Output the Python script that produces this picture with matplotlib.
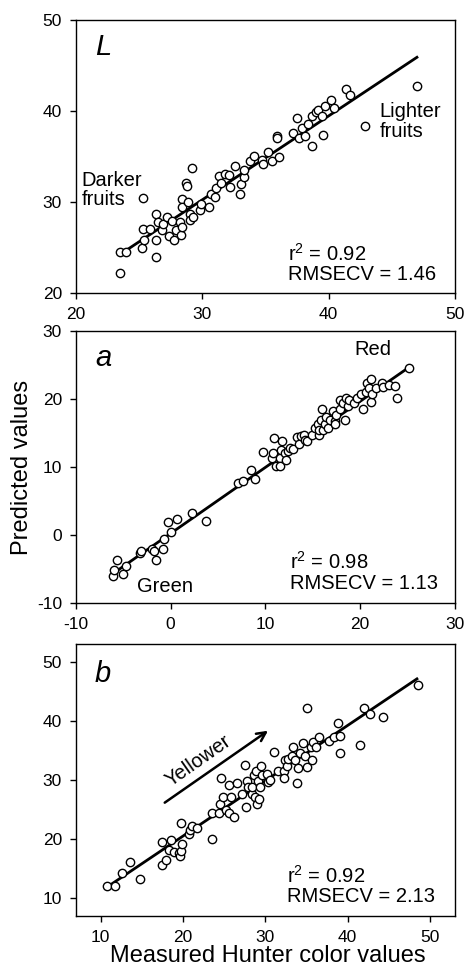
import matplotlib
matplotlib.use("Agg")
import matplotlib.pyplot as plt

plt.rcParams['font.family'] = ['Liberation Sans', 'DejaVu Sans']
plt.rcParams['mathtext.default'] = 'regular'
plt.rcParams['axes.unicode_minus'] = False

# ---- L panel ----
L_meas = [23.5, 24.0, 23.5, 25.2, 25.3, 25.4, 25.3, 25.9, 26.3, 26.3, 26.3, 26.5, 26.8, 26.9,
          27.2, 27.4, 27.6, 27.8, 27.9, 28.2, 28.3, 28.4, 28.4, 28.4, 28.7, 28.8, 28.9, 29.0,
          29.0, 29.2, 29.3, 29.8, 29.9, 30.5, 30.7, 31.0, 31.1, 31.3, 31.5, 31.8, 32.1, 32.2,
          32.6, 33.0, 33.1, 33.3, 33.3, 33.8, 34.1, 34.7, 34.8, 35.2, 35.5, 35.9, 35.9, 36.1,
          37.2, 37.5, 37.7, 37.9, 38.1, 38.4, 38.7, 38.7, 39.0, 39.2, 39.5, 39.6, 39.7, 40.2,
          40.4, 41.4, 41.7, 42.9, 47.0]
L_pred = [24.5, 24.5, 22.2, 24.95, 27.0, 25.8, 30.4, 27.0, 25.8, 24.0, 28.7, 27.8, 26.9, 27.6,
          28.3, 26.3, 27.9, 25.8, 26.9, 27.8, 26.4, 30.3, 29.4, 27.3, 32.1, 31.8, 30.0, 28.7,
          28.0, 33.7, 28.4, 29.1, 29.8, 29.5, 30.9, 30.5, 31.5, 32.9, 32.1, 33.1, 33.0, 31.7,
          33.9, 30.9, 32.0, 32.8, 33.5, 34.5, 35.0, 34.6, 34.2, 35.5, 34.5, 37.3, 37.0, 34.9,
          37.6, 39.2, 37.0, 38.1, 37.3, 38.6, 39.4, 36.2, 39.9, 40.1, 39.4, 37.4, 40.5, 41.2,
          40.3, 42.4, 41.8, 38.4, 42.7]
L_fit_x = [24.1, 47.0]
L_fit_y = [24.8, 45.9]

# ---- a panel ----
a_meas = [-6.06, -6.0, -5.7, -5.0, -4.7, -3.2, -3.1, -2.0, -1.8, -1.6, -0.8, -0.7, -0.26, 0.0,
          0.7, 2.3, 3.7, 7.1, 7.6, 8.5, 8.9, 9.7, 10.75, 10.9, 10.8, 11.1, 11.5, 11.5, 11.7,
          11.8, 12.05, 12.2, 12.4, 12.65, 12.9, 13.3, 13.6, 13.8, 14.1, 14.2, 14.4, 14.9, 15.2,
          15.6, 15.7, 15.7, 15.9, 16.0, 16.1, 16.3, 16.4, 16.6, 16.8, 17.1, 17.3, 17.4, 17.5,
          17.85, 17.9, 18.2, 18.4, 18.5, 18.7, 18.8, 19.4, 19.7, 20.1, 20.3, 20.6, 20.7, 20.95,
          21.1, 21.1, 21.3, 21.7, 22.3, 22.4, 23.1, 23.7, 23.9, 25.2]
a_pred = [-6.0, -5.1, -3.6, -5.8, -4.5, -2.6, -2.4, -2.0, -2.4, -3.6, -2.0, -0.6, 1.9, 0.4,
          2.4, 3.2, 2.1, 7.7, 8.0, 9.5, 8.3, 12.2, 11.4, 14.2, 12.0, 10.2, 11.4, 10.1, 12.5,
          13.9, 12.0, 11.1, 12.3, 12.8, 12.6, 14.4, 13.4, 14.5, 14.7, 14.0, 13.9, 14.7, 15.7,
          16.4, 14.7, 15.5, 16.9, 18.6, 15.5, 16.3, 17.4, 15.7, 16.9, 18.2, 16.7, 16.4, 17.7,
          18.6, 19.9, 19.4, 16.9, 20.1, 19.0, 19.8, 19.4, 20.1, 20.8, 18.6, 21.1, 22.4, 21.6,
          22.9, 19.5, 20.7, 21.6, 22.3, 21.8, 22.1, 21.9, 20.1, 24.6]
a_fit_x = [-5.4, 25.3]
a_fit_y = [-5.0, 24.8]

# ---- b panel ----
b_meas = [10.8, 11.8, 12.6, 13.6, 14.8, 17.4, 17.4, 17.9, 18.3, 18.5, 18.9, 19.5, 19.6, 19.7,
          19.8, 19.9, 20.7, 20.8, 21.1, 21.7, 23.5, 23.5, 24.4, 24.5, 24.6, 24.9, 25.2, 25.6,
          25.6, 25.8, 26.2, 26.5, 27.1, 27.5, 27.7, 27.8, 27.9, 28.4, 28.4, 28.6, 28.7, 28.8,
          29.0, 29.1, 29.2, 29.3, 29.5, 29.6, 30.2, 30.3, 30.5, 31.0, 31.5, 32.2, 32.3, 32.4,
          32.6, 32.8, 33.2, 33.4, 33.6, 33.8, 34.0, 34.2, 34.6, 34.8, 35.1, 35.1, 35.5, 35.7,
          35.8, 36.1, 36.5, 37.7, 38.3, 38.8, 39.1, 39.1, 41.5, 42.0, 42.7, 44.3, 48.5]
b_pred = [12.0, 12.0, 14.2, 16.2, 13.3, 15.6, 19.5, 16.5, 18.1, 19.8, 17.9, 17.6, 17.1, 18.0,
          22.7, 19.1, 20.9, 21.6, 22.3, 21.8, 20.0, 24.4, 24.4, 26.0, 30.4, 27.1, 24.9, 24.4,
          29.1, 27.1, 23.7, 29.5, 27.7, 32.6, 25.4, 29.8, 28.8, 27.7, 28.8, 30.8, 27.1, 31.6,
          26.0, 29.9, 26.8, 28.8, 32.3, 30.8, 31.0, 29.6, 30.0, 34.7, 31.5, 31.6, 30.4, 33.3,
          32.3, 33.6, 34.1, 35.6, 33.3, 29.5, 32.0, 34.5, 36.2, 34.0, 32.2, 42.1, 35.5, 33.3,
          36.5, 35.5, 37.2, 36.6, 37.2, 39.6, 37.4, 34.6, 36.0, 42.1, 41.2, 40.7, 46.1]
b_fit_x = [11.0, 48.4]
b_fit_y = [12.1, 47.1]

fig = plt.figure(figsize=(4.66, 9.75), dpi=100)
ax1 = fig.add_axes([0.163, 0.6995, 0.813, 0.280])
ax2 = fig.add_axes([0.163, 0.3815, 0.813, 0.279])
ax3 = fig.add_axes([0.163, 0.0605, 0.813, 0.279])

def style(ax, x, y, fx, fy):
    ax.plot(fx, fy, color='black', lw=2.0, zorder=2)
    ax.plot(x, y, 'o', ms=6, mfc='white', mec='black', mew=1.0, zorder=3)
    ax.tick_params(direction='out', length=4, width=1, labelsize=12.5, pad=6,
                   top=False, right=False)
    for s in ax.spines.values():
        s.set_linewidth(1.0)

style(ax1, L_meas, L_pred, L_fit_x, L_fit_y)
ax1.set_xlim(20, 50)
ax1.set_ylim(20, 50)
ax1.set_xticks([20, 30, 40, 50])
ax1.set_yticks([20, 30, 40, 50])
ax1.text(0.05, 0.90, 'L', style='italic', fontsize=21, transform=ax1.transAxes, va='center')
ax1.text(0.015, 0.377, 'Darker\nfruits', fontsize=14.5, linespacing=1.05,
         transform=ax1.transAxes, va='center')
ax1.text(0.802, 0.627, 'Lighter\nfruits', fontsize=14.5, linespacing=1.05,
         transform=ax1.transAxes, va='center')
ax1.text(0.56, 0.108, 'r$^2$ = 0.92\nRMSECV = 1.46', fontsize=14.5, linespacing=1.05,
         transform=ax1.transAxes, va='center')

style(ax2, a_meas, a_pred, a_fit_x, a_fit_y)
ax2.set_xlim(-10, 30)
ax2.set_ylim(-10, 30)
ax2.set_xticks([-10, 0, 10, 20, 30])
ax2.set_yticks([-10, 0, 10, 20, 30])
ax2.text(0.05, 0.90, 'a', style='italic', fontsize=21, transform=ax2.transAxes, va='center')
ax2.text(0.785, 0.933, 'Red', fontsize=14.5, transform=ax2.transAxes, ha='center', va='center')
ax2.text(0.235, 0.061, 'Green', fontsize=14.5, transform=ax2.transAxes, ha='center', va='center')
ax2.text(0.565, 0.114, 'r$^2$ = 0.98\nRMSECV = 1.13', fontsize=14.5, linespacing=1.05,
         transform=ax2.transAxes, va='center')

style(ax3, b_meas, b_pred, b_fit_x, b_fit_y)
ax3.set_xlim(7, 53)
ax3.set_ylim(7, 53)
ax3.set_xticks([10, 20, 30, 40, 50])
ax3.set_yticks([10, 20, 30, 40, 50])
ax3.text(0.05, 0.89, 'b', style='italic', fontsize=21, transform=ax3.transAxes, va='center')
ax3.annotate('', xy=(30.6, 38.6), xytext=(17.5, 25.9),
             arrowprops=dict(arrowstyle='->', lw=1.8, color='black', mutation_scale=16))
ax3.text(21.9, 33.3, 'Yellower', fontsize=14.5, rotation=35, ha='center', va='center')
ax3.text(0.558, 0.113, 'r$^2$ = 0.92\nRMSECV = 2.13', fontsize=14.5, linespacing=1.05,
         transform=ax3.transAxes, va='center')

fig.text(0.047, 1 - 467 / 975, 'Predicted values', rotation=90, fontsize=17,
         ha='center', va='center')
fig.text(0.575, 1 - 956 / 975, 'Measured Hunter color values', fontsize=17,
         ha='center', va='center')

fig.savefig('out.png', dpi=100)
